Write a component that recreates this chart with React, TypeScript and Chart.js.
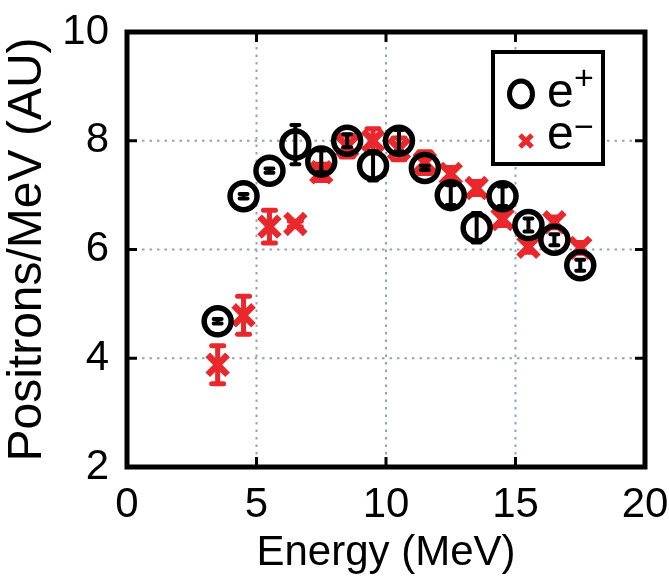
import React, { useEffect, useRef } from 'react';
import { Chart, registerables } from 'chart.js';

Chart.register(...registerables);

// Energy bin centres (MeV)
const energies = [3.5, 4.5, 5.5, 6.5, 7.5, 8.5, 9.5, 10.5, 11.5, 12.5, 13.5, 14.5, 15.5, 16.5, 17.5];

// Positron spectrum (e+) and its uncertainty
const positronValues = [4.68, 6.98, 7.45, 7.93, 7.62, 8.0, 7.54, 8.0, 7.5, 7.0, 6.4, 6.98, 6.45, 6.18, 5.71];
const positronErrors = [0.04, 0.04, 0.04, 0.36, 0.2, 0.12, 0.27, 0.2, 0.04, 0.18, 0.27, 0.18, 0.12, 0.1, 0.1];

// Electron spectrum (e−) and its uncertainty
const electronValues = [3.88, 4.79, 6.42, 6.47, 7.42, 7.9, 8.0, 7.85, 7.6, 7.39, 7.13, 6.56, 6.05, 6.5, 6.03];
const electronErrors = [0.35, 0.35, 0.3, 0.05, 0.15, 0.2, 0.22, 0.2, 0.2, 0.12, 0.12, 0.12, 0.1, 0.1, 0.1];

const xTickValues = [0, 5, 10, 15, 20];
const yTickValues = [2, 4, 6, 8, 10];

const xTitle = 'Energy (MeV)';
const yTitle = 'Positrons/MeV (AU)';

const RED = '#e8282c';
const FONT = '"Liberation Sans", Arial, Helvetica, sans-serif';

const errorSets: Record<number, { errs: number[]; color: string; width: number; cap: number }> = {
  0: { errs: positronErrors, color: '#000000', width: 4, cap: 4 },
  1: { errs: electronErrors, color: RED, width: 5, cap: 6 },
};

// Vertical error bars drawn right after each dataset so e+ stays on top
const errorBarPlugin = {
  id: 'errorBars',
  afterDatasetDraw(chart: any, args: any) {
    const set = errorSets[args.index];
    if (!set) return;
    const { ctx, scales } = chart;
    const ds = chart.data.datasets[args.index];
    ctx.save();
    ctx.strokeStyle = set.color;
    ctx.lineWidth = set.width;
    ctx.lineCap = 'round';
    ds.data.forEach((p: any, i: number) => {
      const e = set.errs[i];
      const px = scales.x.getPixelForValue(p.x);
      const yTop = scales.y.getPixelForValue(p.y + e);
      const yBot = scales.y.getPixelForValue(p.y - e);
      ctx.beginPath();
      ctx.moveTo(px, yTop);
      ctx.lineTo(px, yBot);
      ctx.moveTo(px - set.cap, yTop);
      ctx.lineTo(px + set.cap, yTop);
      ctx.moveTo(px - set.cap, yBot);
      ctx.lineTo(px + set.cap, yBot);
      ctx.stroke();
    });
    ctx.restore();
  },
};

// Dotted grid, heavy frame and inward tick marks
const framePlugin = {
  id: 'frame',
  beforeDatasetsDraw(chart: any) {
    const { ctx, chartArea: a, scales } = chart;
    ctx.save();
    ctx.strokeStyle = '#97a1b7';
    ctx.lineWidth = 2;
    ctx.setLineDash([2.5, 5]);
    xTickValues.slice(1, -1).forEach((v) => {
      const x = scales.x.getPixelForValue(v);
      ctx.beginPath();
      ctx.moveTo(x, a.top);
      ctx.lineTo(x, a.bottom);
      ctx.stroke();
    });
    yTickValues.slice(1, -1).forEach((v) => {
      const y = scales.y.getPixelForValue(v);
      ctx.beginPath();
      ctx.moveTo(a.left, y);
      ctx.lineTo(a.right, y);
      ctx.stroke();
    });
    ctx.restore();
  },
  afterDatasetsDraw(chart: any) {
    const { ctx, chartArea: a, scales } = chart;
    ctx.save();
    ctx.strokeStyle = '#000';
    ctx.lineWidth = 3;
    const t = 10;
    xTickValues.slice(1, -1).forEach((v) => {
      const x = scales.x.getPixelForValue(v);
      ctx.beginPath();
      ctx.moveTo(x, a.bottom);
      ctx.lineTo(x, a.bottom - t);
      ctx.moveTo(x, a.top);
      ctx.lineTo(x, a.top + t);
      ctx.stroke();
    });
    yTickValues.slice(1, -1).forEach((v) => {
      const y = scales.y.getPixelForValue(v);
      ctx.beginPath();
      ctx.moveTo(a.left, y);
      ctx.lineTo(a.left + t, y);
      ctx.moveTo(a.right, y);
      ctx.lineTo(a.right - t, y);
      ctx.stroke();
    });
    ctx.lineWidth = 5;
    ctx.strokeRect(a.left, a.top, a.right - a.left, a.bottom - a.top);
    ctx.restore();
  },
};

// Boxed legend in the upper right of the plot
const legendPlugin = {
  id: 'boxLegend',
  afterDraw(chart: any) {
    const { ctx, chartArea: a } = chart;
    const w = 110;
    const h = 112;
    const bx = a.right - 42 - w;
    const by = a.top + 20;
    ctx.save();
    ctx.fillStyle = '#fff';
    ctx.fillRect(bx, by, w, h);
    ctx.strokeStyle = '#000';
    ctx.lineWidth = 4;
    ctx.strokeRect(bx, by, w, h);

    // e+ entry
    ctx.lineWidth = 5;
    ctx.beginPath();
    ctx.ellipse(bx + 28, by + 42, 11.5, 13, 0, 0, Math.PI * 2);
    ctx.stroke();

    // e− entry
    ctx.strokeStyle = RED;
    ctx.lineWidth = 5;
    const cx = bx + 33;
    const cy = by + 89;
    const r = 6;
    ctx.beginPath();
    ctx.moveTo(cx - r, cy - r);
    ctx.lineTo(cx + r, cy + r);
    ctx.moveTo(cx + r, cy - r);
    ctx.lineTo(cx - r, cy + r);
    ctx.stroke();

    ctx.fillStyle = '#000';
    ctx.textAlign = 'left';
    ctx.textBaseline = 'alphabetic';
    ctx.font = `48px ${FONT}`;
    ctx.fillText('e', bx + 54, by + 55);
    ctx.fillText('e', bx + 54, by + 97);
    ctx.font = `34px ${FONT}`;
    ctx.fillText('+', bx + 81, by + 37);
    ctx.fillText('\u2212', bx + 81, by + 86);
    ctx.restore();
  },
};

export default function App() {
  const canvasRef = useRef<HTMLCanvasElement | null>(null);

  useEffect(() => {
    if (!canvasRef.current) return;
    const chart = new Chart(canvasRef.current, {
      type: 'scatter',
      data: {
        datasets: [
          {
            label: 'e+',
            data: energies.map((x, i) => ({ x, y: positronValues[i] })),
            pointStyle: 'circle',
            pointRadius: 13.5,
            pointHoverRadius: 13.5,
            borderWidth: 5.5,
            borderColor: '#000',
            backgroundColor: 'rgba(0,0,0,0)',
          },
          {
            label: 'e\u2212',
            data: energies.map((x, i) => ({ x, y: electronValues[i] })),
            pointStyle: 'crossRot',
            pointRadius: 14,
            pointHoverRadius: 14,
            borderWidth: 6.5,
            borderColor: RED,
            backgroundColor: RED,
          },
        ],
      },
      options: {
        responsive: false,
        animation: false,
        events: [],
        layout: { padding: { top: 32, right: 24, left: 0, bottom: 0 } },
        plugins: { legend: { display: false }, tooltip: { enabled: false } },
        scales: {
          x: {
            type: 'linear',
            min: 0,
            max: 20,
            afterBuildTicks: (s: any) => {
              s.ticks = xTickValues.map((v) => ({ value: v }));
            },
            afterFit: (s: any) => {
              s.height = 110;
              s.paddingLeft = 0;
              s.paddingRight = 0;
            },
            grid: { display: false },
            border: { display: false },
            ticks: {
              padding: 9,
              color: '#000',
              font: { family: FONT, size: 42, lineHeight: 1 },
              maxRotation: 0,
            },
            title: {
              display: true,
              text: xTitle,
              color: '#000',
              font: { family: FONT, size: 42, lineHeight: 1 },
              padding: { top: 0, bottom: 3 },
            },
          },
          y: {
            type: 'linear',
            min: 2,
            max: 10,
            afterBuildTicks: (s: any) => {
              s.ticks = yTickValues.map((v) => ({ value: v }));
            },
            afterFit: (s: any) => {
              s.width = 127;
            },
            grid: { display: false },
            border: { display: false },
            ticks: {
              padding: 10,
              color: '#000',
              font: { family: FONT, size: 42, lineHeight: 1 },
            },
            title: {
              display: true,
              text: yTitle,
              color: '#000',
              font: { family: FONT, size: 48, lineHeight: 1 },
              padding: { top: 4, bottom: 0 },
            },
          },
        },
      },
      plugins: [framePlugin, errorBarPlugin, legendPlugin],
    });
    return () => chart.destroy();
  }, []);

  return (
    <div style={{ position: 'fixed', left: 0, top: 0, width: 669, height: 577, background: '#fff' }}>
      <canvas ref={canvasRef} width={669} height={577} />
    </div>
  );
}
